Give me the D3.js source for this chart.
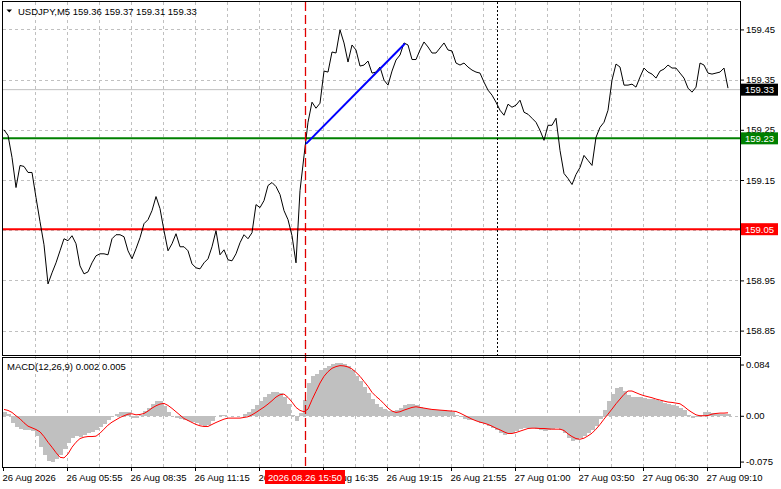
<!DOCTYPE html>
<html>
<head>
<meta charset="utf-8">
<script src="https://cdn.jsdelivr.net/npm/d3@7"></script>
<style>
  body { margin: 0; background: #fff; }
  svg text { font-family: "Liberation Sans", Arial, sans-serif; font-size: 9.5px; fill: #000; }
</style>
</head>
<body>
<svg id="chart" width="781" height="489"></svg>
<script>
// USDJPY M5 closes, one value every 2 bars
const prices = [
  159.250, 159.239, 159.195, 159.135, 159.179, 159.177, 159.165, 159.165, 159.115, 159.067,
  159.021, 158.943, 158.965, 158.985, 159.009, 159.033, 159.029, 159.039, 159.023, 158.979,
  158.963, 158.967, 158.985, 158.999, 159.003, 159.003, 159.001, 159.033, 159.041, 159.041,
  159.037, 159.009, 158.993, 159.013, 159.035, 159.063, 159.071, 159.089, 159.117, 159.093,
  159.049, 159.009, 159.023, 159.043, 159.017, 159.017, 159.009, 158.983, 158.975, 158.973,
  158.985, 158.993, 159.017, 159.049, 159.001, 159.011, 158.991, 158.989, 159.003, 159.025,
  159.041, 159.033, 159.045, 159.101, 159.095, 159.109, 159.139, 159.145, 159.137, 159.121,
  159.089, 159.071, 159.039, 158.985, 159.129, 159.198, 159.265, 159.305, 159.293, 159.303,
  159.367, 159.365, 159.405, 159.403, 159.449, 159.423, 159.385, 159.419, 159.409, 159.377,
  159.379, 159.387, 159.363, 159.365, 159.375, 159.349, 159.339, 159.367, 159.389, 159.399,
  159.423, 159.419, 159.390, 159.390, 159.409, 159.425, 159.415, 159.403, 159.403, 159.413,
  159.423, 159.409, 159.407, 159.383, 159.379, 159.383, 159.375, 159.369, 159.365, 159.363,
  159.345, 159.329, 159.319, 159.305, 159.289, 159.279, 159.301, 159.295, 159.299, 159.309,
  159.285, 159.281, 159.273, 159.265, 159.249, 159.229, 159.259, 159.259, 159.273, 159.209,
  159.163, 159.153, 159.141, 159.161, 159.175, 159.199, 159.189, 159.179, 159.235, 159.255,
  159.265, 159.289, 159.349, 159.381, 159.375, 159.339, 159.339, 159.341, 159.335, 159.355,
  159.373, 159.365, 159.361, 159.353, 159.367, 159.371, 159.379, 159.373, 159.373, 159.363,
  159.353, 159.333, 159.325, 159.335, 159.383, 159.379, 159.363, 159.361, 159.363, 159.365,
  159.373, 159.333
];

// MACD main (histogram) and signal, in thousandths
const histK = [
  6.6, 3.3, -12, -18.6, -21.9, -22.5, -23.6, -25.2, -32.9, -50.4,
  -63.6, -73.4, -76.2, -71.2, -64.1, -53.7, -43.8, -36.7, -33.4, -35,
  -30.7, -27.9, -26.3, -23, -18.6, -13.2, -7.1, -1.1, 3.3, 5.5,
  6.6, 5.5, -4.4, -4.4, 1.6, 7.7, 12.6, 19.2, 23.6, 23.6,
  16.4, 5.5, -1.1, -3.8, -5.5, -6.6, -8.2, -10.4, -12.6, -14.8,
  -16.4, -15.3, -9.3, -1.1, 1.6, 0.5, -0.5, -1.1, -1.1, -0.5,
  2.7, 6.6, 11, 17, 23.6, 30.7, 36.2, 39.5, 39.5, 37.3,
  30.1, 19.2, 1.6, -9.3, 4.4, 26.3, 53.7, 64.7, 69, 74.5,
  78.9, 82.2, 84.4, 86.6, 86.6, 84.9, 81.1, 74.5, 65.8, 56.4,
  47.1, 37.3, 27.4, 19.7, 14.2, 11, 7.7, 7.1, 8.8, 13.2,
  17, 19.2, 19.2, 17, 14.2, 12.1, 11, 9.9, 9.9, 9.3,
  8.8, 8.2, 5.5, 1.6, -2.7, -5.5, -6.6, -7.7, -9.3, -11.5,
  -13.7, -17, -20.3, -23.6, -27.4, -31.2, -29.6, -27.4, -24.7, -21.9,
  -20.3, -19.2, -19.2, -21.4, -23, -24.1, -23, -21.9, -20.8, -23,
  -27.4, -36.7, -40.6, -39.5, -36.7, -32.9, -28.5, -23, -16.4, -5.5,
  8.8, 23.6, 36.2, 45.5, 47.1, 40, 33.4, 31.2, 30.7, 30.1,
  29, 27.9, 26.9, 25.8, 23.6, 20.8, 19.2, 17.5, 15.9, 13.2,
  8.8, 1.6, -3.3, -2.7, 1.6, 6, 6, 4.9, 3.3, 3.3,
  3.3, 2.2
];
const signalK = [
  10.4, 8.8, 5.5, 0, -4.9, -11.5, -17, -19.7, -22.5, -26.3,
  -34, -43.3, -51.5, -60.3, -68, -69, -62.5, -51.5, -43.3, -37.3,
  -35, -34, -34, -33.4, -28.5, -21.9, -15.3, -10.4, -6.6, -2.7,
  0, 2.7, 3.3, 1.6, 2.2, 3.8, 7.7, 12.6, 16.4, 19.2,
  20.3, 17, 12.1, 6.6, 1.1, -4.4, -7.7, -11, -14.2, -16.4,
  -17.5, -17.5, -14.2, -11, -8.2, -5.5, -3.8, -3.8, -3.8, -3.8,
  -2.7, -1.6, 1.6, 5.5, 9.9, 14.2, 19.2, 24.7, 30.7, 34.5,
  35.6, 30.1, 22.5, 13.7, 8.8, 6.6, 11, 26.3, 40, 53.7,
  64.7, 72.3, 77.8, 80.6, 82.2, 81.7, 80, 76.7, 71.2, 64.7,
  56.4, 48.2, 38.4, 31.8, 26.3, 19.7, 12.6, 7.7, 5.5, 6.6,
  9.3, 11.5, 13.7, 14.8, 13.7, 12.6, 11.5, 10.4, 9.9, 9.3,
  8.8, 8.2, 7.7, 7.1, 4.4, 1.1, -2.2, -5.5, -8.2, -10.4,
  -12.1, -14.2, -17, -20.3, -23, -26.3, -29, -29, -27.4, -25.2,
  -23, -20.8, -20.3, -20.3, -20.8, -20.8, -21.4, -21.9, -21.9, -21.9,
  -24.1, -29.6, -34, -37.3, -38.4, -36.7, -32.9, -28.5, -21.9, -14.2,
  -5.5, 2.7, 11, 19.7, 27.4, 35.1, 40.6, 40.6, 37.8, 35.1,
  32.9, 31.2, 29.6, 27.4, 25.8, 24.1, 22.5, 21.9, 20.8, 19.7,
  15.3, 9.9, 5.5, 1.6, 0, 0, 0.5, 2.7, 3.8, 4.4,
  4.4, 4.9
];

const timeLabels = ["26 Aug 2026", "26 Aug 05:55", "26 Aug 08:35", "26 Aug 11:15", "26 Aug 13:55", "26 Aug 16:35",
                    "26 Aug 19:15", "26 Aug 21:55", "27 Aug 01:00", "27 Aug 03:50", "27 Aug 06:30", "27 Aug 09:10"];
const priceTicks = [158.85, 158.95, 159.05, 159.15, 159.25, 159.35, 159.45];
const macdTicks = [0.084, 0, -0.075];
const macdTickLabels = ["0.084", "0.00", "-0.075"];

const ohlc = [159.36, 159.37, 159.31, 159.33];
const bidPrice = 159.33;
const supportPrice = 159.233, supportLabel = "159.23";
const resistPrice = 159.052, resistLabel = "159.05";
const trendBars = [151.5, 201], trendPrices = [159.222, 159.422];
const selectedBar = 151, selectedLabel = "2026.08.26 15:50";
const dayBar = 247;

const barsPerSample = 2, barsPerLabel = 32, barsPerGrid = 16, totalBars = 368.5;

const svg = d3.select("#chart");
const left = 3, right = 740, mainTop = 2, mainBottom = 355, macdTop = 357.5, macdBottom = 467;

const x = d3.scaleLinear().domain([0, totalBars]).range([left, right]);
const y = d3.scaleLinear().domain([158.8014, 159.5046]).range([mainBottom, mainTop]);
const ym = d3.scaleLinear().domain([-0.0839, 0.0955]).range([macdBottom, macdTop]);

const sampleBar = i => i * barsPerSample + 0.5;
const hist = histK.map(v => v / 1000);
const signal = signalK.map(v => v / 1000);

const grid = svg.append("g")
    .attr("stroke", "#c0c0c0")
    .attr("stroke-dasharray", "3,3")
    .attr("shape-rendering", "crispEdges");

const gridBars = d3.range(barsPerGrid, totalBars - 1, barsPerGrid);
grid.selectAll(".vg").data(gridBars).join("line")
    .attr("x1", d => Math.round(x(d)) + 0.5).attr("x2", d => Math.round(x(d)) + 0.5)
    .attr("y1", mainTop).attr("y2", macdBottom);
grid.selectAll(".hg").data(priceTicks).join("line")
    .attr("x1", left).attr("x2", right)
    .attr("y1", d => Math.round(y(d)) + 0.5).attr("y2", d => Math.round(y(d)) + 0.5);
grid.append("line")
    .attr("x1", left).attr("x2", right)
    .attr("y1", Math.round(ym(0)) + 0.5).attr("y2", Math.round(ym(0)) + 0.5);

// horizontal levels
svg.append("line").attr("x1", left).attr("x2", right)
    .attr("y1", y(bidPrice)).attr("y2", y(bidPrice))
    .attr("stroke", "#c0c0c0").attr("stroke-width", 1);
svg.append("line").attr("x1", left).attr("x2", right)
    .attr("y1", y(supportPrice)).attr("y2", y(supportPrice))
    .attr("stroke", "#008000").attr("stroke-width", 2);
svg.append("line").attr("x1", left).attr("x2", right)
    .attr("y1", y(resistPrice)).attr("y2", y(resistPrice))
    .attr("stroke", "#ff0000").attr("stroke-width", 2);

// price line
const line = d3.line()
    .x((d, i) => x(sampleBar(i)))
    .y(d => y(d));
svg.append("path")
    .datum(prices)
    .attr("fill", "none")
    .attr("stroke", "#000")
    .attr("stroke-width", 1)
    .attr("stroke-linejoin", "round")
    .attr("d", line);

// trend line
svg.append("line")
    .attr("x1", x(trendBars[0])).attr("y1", y(trendPrices[0]))
    .attr("x2", x(trendBars[1])).attr("y2", y(trendPrices[1]))
    .attr("stroke", "#0000ff").attr("stroke-width", 2);

// MACD histogram + signal
svg.append("g").attr("fill", "#c0c0c0").attr("shape-rendering", "crispEdges")
  .selectAll("rect").data(hist).join("rect")
    .attr("x", (d, i) => x(i * barsPerSample))
    .attr("width", (d, i) => x((i + 1) * barsPerSample) - x(i * barsPerSample))
    .attr("y", d => ym(Math.max(d, 0)))
    .attr("height", d => Math.abs(ym(d) - ym(0)));

svg.append("path")
    .datum(signal)
    .attr("fill", "none")
    .attr("stroke", "#ff0000")
    .attr("stroke-width", 1)
    .attr("d", d3.line().x((d, i) => x(sampleBar(i))).y(d => ym(d)));

// vertical markers
svg.append("line")
    .attr("x1", Math.round(x(selectedBar)) + 0.5).attr("x2", Math.round(x(selectedBar)) + 0.5)
    .attr("y1", mainTop).attr("y2", macdBottom)
    .attr("stroke", "#e00000").attr("stroke-width", 1.3)
    .attr("stroke-dasharray", "9,4");
svg.append("line")
    .attr("x1", Math.round(x(dayBar)) + 0.5).attr("x2", Math.round(x(dayBar)) + 0.5)
    .attr("y1", mainTop).attr("y2", mainBottom)
    .attr("stroke", "#000").attr("stroke-dasharray", "2,2")
    .attr("shape-rendering", "crispEdges");

// frames
const frame = svg.append("g").attr("fill", "none").attr("stroke", "#000").attr("shape-rendering", "crispEdges");
frame.append("rect").attr("x", left - 0.5).attr("y", mainTop - 0.5)
    .attr("width", right - left + 0.5).attr("height", mainBottom - mainTop + 0.5);
frame.append("rect").attr("x", left - 0.5).attr("y", macdTop)
    .attr("width", right - left + 0.5).attr("height", macdBottom - macdTop);

// axes
const pAxis = svg.append("g")
    .attr("transform", `translate(${right},0)`)
    .call(d3.axisRight(y).tickValues(priceTicks).tickFormat(d3.format(".2f")).tickSize(4).tickPadding(2));
const mAxis = svg.append("g")
    .attr("transform", `translate(${right},0)`)
    .call(d3.axisRight(ym).tickValues(macdTicks).tickFormat((d, i) => macdTickLabels[i]).tickSize(4).tickPadding(2));
const tAxis = svg.append("g")
    .attr("transform", `translate(0,${macdBottom})`)
    .call(d3.axisBottom(x).tickValues(timeLabels.map((d, i) => i * barsPerLabel))
        .tickFormat((d, i) => timeLabels[i]).tickSize(4).tickPadding(3));
[pAxis, mAxis, tAxis].forEach(a => {
  a.select(".domain").remove();
  a.attr("font-family", null).attr("font-size", null);
  a.selectAll(".tick line").attr("stroke", "#000");
});
tAxis.selectAll(".tick text").attr("text-anchor", "start").attr("x", -1);

// price tags on axis
function priceTag(p, label, fill) {
  const yy = y(p);
  svg.append("rect").attr("x", right + 1).attr("y", yy - 6).attr("width", 37).attr("height", 12).attr("fill", fill);
  svg.append("text").attr("x", right + 5).attr("y", yy + 3.5).style("fill", "#fff").text(label);
}
priceTag(bidPrice, bidPrice.toFixed(2), "#000");
priceTag(supportPrice, supportLabel, "#008000");
priceTag(resistPrice, resistLabel, "#ff0000");

// selected time tag
const tx = x(selectedBar);
const tt = svg.append("text").attr("x", tx).attr("y", macdBottom + 14)
    .attr("text-anchor", "middle").style("fill", "#fff").text(selectedLabel);
const bb = tt.node().getBBox();
svg.insert("rect", () => tt.node())
    .attr("x", bb.x - 3).attr("y", macdBottom + 3).attr("width", bb.width + 6).attr("height", 14)
    .attr("fill", "#ff0000");

// titles
svg.append("path").attr("d", "M6.5,9.5L12,9.5L9.25,12.5Z").attr("fill", "#000");
svg.append("text").attr("x", 18).attr("y", 14.5)
    .text("USDJPY,M5  " + ohlc.map(d => d.toFixed(2)).join(" "));
svg.append("text").attr("x", 7).attr("y", 369.5)
    .text(`MACD(12,26,9) ${hist[hist.length - 1].toFixed(3)} ${signal[signal.length - 1].toFixed(3)}`);
</script>
</body>
</html>
